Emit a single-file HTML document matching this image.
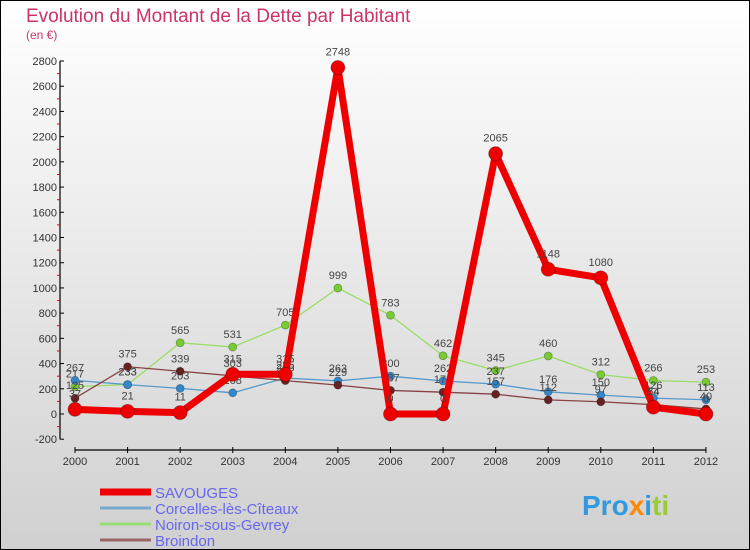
<!DOCTYPE html>
<html><head><meta charset="utf-8">
<style>
html,body{margin:0;padding:0}
body{width:750px;height:550px;overflow:hidden;font-family:"Liberation Sans",sans-serif}
svg{display:block}
</style></head>
<body>
<svg width="750" height="550" viewBox="0 0 750 550">
<defs>
<linearGradient id="bg" x1="0" y1="0" x2="0" y2="1">
<stop offset="0" stop-color="#ffffff"/><stop offset="1" stop-color="#d0d0d0"/>
</linearGradient>
</defs>
<rect x="0.5" y="0.5" width="749" height="549" fill="url(#bg)" stroke="#000"/>
<text x="26" y="22" font-size="19" fill="#cc3366">Evolution du Montant de la Dette par Habitant</text>
<text x="26" y="39" font-size="12" fill="#cc3366">(en €)</text>
<g id="axes"></g>
<g id="series"></g>
<g id="legend"></g>
<text x="582" y="515" font-size="28" font-weight="bold"><tspan fill="#3399dd">Pro</tspan><tspan fill="#ff8800">x</tspan><tspan fill="#3399dd">i</tspan><tspan fill="#99cc33">ti</tspan></text>
</svg>
<script>
const years=[2000,2001,2002,2003,2004,2005,2006,2007,2008,2009,2010,2011,2012];
const yTicks=[-200,0,200,400,600,800,1000,1200,1400,1600,1800,2000,2200,2400,2600,2800];
const savouges=[37,21,11,315,315,2748,0,0,2065,1148,1080,54,0];
const corcelles=[267,233,203,168,285,263,300,262,237,176,150,126,113];
const noiron=[217,233,565,531,705,999,783,462,345,460,312,266,253];
const broindon=[125,375,339,303,265,229,187,173,157,112,97,74,40];
const seriesNames=["SAVOUGES","Corcelles-lès-Cîteaux","Noiron-sous-Gevrey","Broindon"];

const NS="http://www.w3.org/2000/svg";
const X=i=>75+i*52.58;
const Y=v=>414-v*0.12607;
function mk(tag,attrs,parent,txt){const e=document.createElementNS(NS,tag);for(const k in attrs)e.setAttribute(k,attrs[k]);if(txt!==undefined)e.textContent=txt;parent.appendChild(e);return e;}
const axes=document.getElementById('axes');
let ya=mk('line',{x1:60,y1:Y(2800),x2:60,y2:Y(-200),stroke:'#000','stroke-width':1.2},axes);


yTicks.forEach(t=>{
  let l=mk('line',{x1:60,y1:Y(t),x2:64,y2:Y(t),stroke:'#000'},axes);
  
  
  let tx=mk('text',{x:57,y:Y(t)+4,'font-size':11,'text-anchor':'end',fill:'#333'},axes,String(t));
  
  
  if(t<2800){let m=mk('line',{x1:57,y1:Y(t+100),x2:60,y2:Y(t+100),stroke:'#e00'},axes);
  
  }
});
let xa=mk('line',{x1:75,y1:450,x2:X(12),y2:450,stroke:'#000','stroke-width':1.2},axes);


years.forEach((yr,i)=>{
  let l=mk('line',{x1:X(i),y1:447,x2:X(i),y2:453,stroke:'#000'},axes);
  
  
  let tx=mk('text',{x:X(i),y:465,'font-size':11,'text-anchor':'middle',fill:'#333'},axes,String(yr));
  
  
});
const sg=document.getElementById('series');
function drawSeries(vals,color,dot,w,r,name){
  const g=mk('g',{},sg);
  
  
  let p=mk('polyline',{points:vals.map((v,i)=>X(i)+','+Y(v)).join(' '),fill:'none',stroke:color,'stroke-width':w,'stroke-linejoin':'round'},g);
  
  
  vals.forEach((v,i)=>{
    let c=mk('circle',{cx:X(i),cy:Y(v),r:r,fill:dot,stroke:'rgba(0,0,0,0.3)','stroke-width':0.8},g);
    
    
    let t=mk('text',{x:X(i),y:Y(v)-r-5,'font-size':11,'text-anchor':'middle',fill:'#444'},g,String(v));
    
    
  });
}
drawSeries(noiron,'#99dd66','#77cc33',1.3,4,'noiron');
drawSeries(corcelles,'#5599cc','#3388cc',1.3,4,'corcelles');
drawSeries(broindon,'#884444','#662222',1.3,4,'broindon');
drawSeries(savouges,'#ee0000','#ee0000',7,7,'savouges');
const lg=document.getElementById('legend');
const lcol=['#ee0000','#77aacc','#99dd77','#996666'];
const lw=[7,3,3,3];
seriesNames.forEach((n,i)=>{
  const y=492+i*16;
  let l=mk('line',{x1:100,y1:y,x2:151,y2:y,stroke:lcol[i],'stroke-width':lw[i]},lg);
  
  
  let t=mk('text',{x:155,y:y+6,'font-size':15,fill:'#6666ee'},lg,n);
  
  
});
</script>
</body></html>
